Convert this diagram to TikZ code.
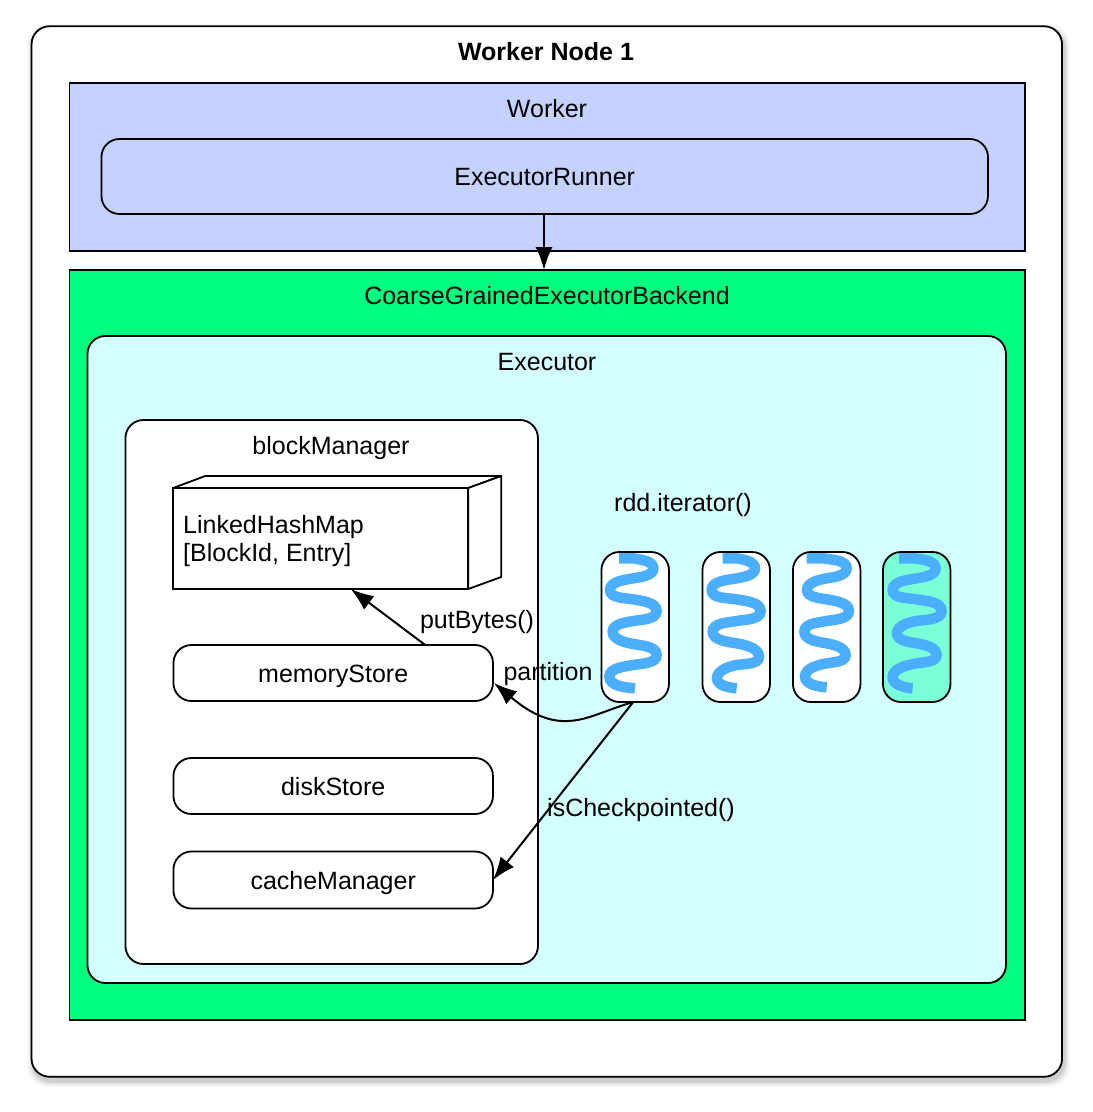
\documentclass[tikz,border=0pt]{standalone}
\usepackage{fontspec}
\setmainfont{Liberation Sans}
\usetikzlibrary{arrows.meta,calc}
\definecolor{workerblue}{HTML}{C5D2FF}
\definecolor{backendgreen}{HTML}{00FF7F}
\definecolor{execcyan}{HTML}{D4FFFF}
\definecolor{threadblue}{HTML}{4BAEFF}
\definecolor{threadgreen}{HTML}{7AFFD6}
\tikzset{
  boxbase/.style={draw=black,line width=1.8pt,inner sep=0pt,outer sep=0pt,align=center,font=\fontsize{25}{28}\selectfont,text height=18pt,text depth=0pt},
  rbox/.style={boxbase,rounded corners=18pt},
  sbox/.style={boxbase},
  title/.style={anchor=base,inner sep=0pt,font=\fontsize{25}{28}\selectfont},
  conn/.style={draw=black,line width=2pt,-{Latex[length=23pt,width=17pt]}},
  squiggle/.style={draw=threadblue,line width=10.5pt,line cap=butt},
  ma/.style={out=-10,in=90,looseness=.85},
  mb/.style={out=-90,in=10,looseness=.85},
  mc/.style={out=190,in=90,looseness=.85},
  md/.style={out=-90,in=170,looseness=.85},
  me/.style={out=-90,in=175,looseness=.85},
}
\begin{document}
\begin{tikzpicture}[x=1pt,y=-1pt]
\useasboundingbox (0,0) rectangle (1093,1112);
\fill[white] (0,0) rectangle (1093,1112);
% soft shadow of the outer box
\foreach \g/\o in {6/.025,4.5/.04,3/.06,1.5/.08}{
  \fill[black,opacity=\o,rounded corners=20pt] (33-\g,30-\g) rectangle (1064+\g,1081+\g);
}
\node[rbox,fill=white,minimum width=1030.5pt,minimum height=1050.5pt] (outer) at (546.8,551.5) {};
\node[sbox,fill=workerblue,minimum width=955.5pt,minimum height=168pt] (worker) at (547.2,167) {};
\node[rbox,fill=workerblue,minimum width=886.5pt,minimum height=75pt] (runner) at (544.7,176.5) {ExecutorRunner};
\node[sbox,fill=backendgreen,minimum width=955.5pt,minimum height=750pt] (backend) at (547.2,645) {};
\node[rbox,fill=execcyan,minimum width=918.5pt,minimum height=647pt] (executor) at (546.7,659.5) {};
\node[rbox,fill=white,minimum width=412.5pt,minimum height=544pt] (bm) at (331.7,692) {};
% 3D box
\node[sbox,fill=white,minimum width=295pt,minimum height=101pt] (map) at (320.7,538.5) {};
\draw[line width=1.8pt,fill=white,line join=round] (map.north west) -- ($(map.north west)+(32,-12)$) -- ($(map.north east)+(33,-12)$) -- (map.north east) -- cycle;
\draw[line width=1.8pt,fill=white,line join=round] (map.north east) -- ($(map.north east)+(33,-12)$) -- ($(map.south east)+(33,-12)$) -- (map.south east) -- cycle;
\node[anchor=base west,inner sep=0pt,align=left,font=\fontsize{25}{28}\selectfont] (maptext) at (183,561) {LinkedHashMap\\{}[BlockId, Entry]};
\node[rbox,fill=white,minimum width=319.5pt,minimum height=56pt] (memory) at (333.2,673) {memoryStore};
\node[rbox,fill=white,minimum width=319.5pt,minimum height=56pt] (disk) at (333.2,786) {diskStore};
\node[rbox,fill=white,minimum width=319.5pt,minimum height=57pt] (cache) at (333.2,880) {cacheManager};
% threads
\node[rbox,fill=white,minimum width=67.5pt,minimum height=150pt] (t1) at (635.2,627) {};
\node[rbox,fill=white,minimum width=67.5pt,minimum height=150pt] (t2) at (736.2,627) {};
\node[rbox,fill=white,minimum width=67.5pt,minimum height=150pt] (t3) at (826.7,627) {};
\node[rbox,fill=threadgreen,minimum width=67.5pt,minimum height=150pt] (t4) at (916.7,627) {};
\begin{scope}[shift={(590,540)},x=1pt/3,y=-1pt/3]
\draw[squiggle] (87,55) -- (130,55) to[ma] (190,85) to[mb] (130,115) to[mc] (60,150) to[md] (130,178) to[ma] (200,213) to[mb] (130,243) to[mc] (68,275) to[md] (130,312) to[ma] (200,345) to[mb] (130,375) to[mc] (58,410) to[me] (135,445);
\draw[squiggle] (398,55) -- (440,55) to[ma] (495,85) to[mb] (440,115) to[mc] (365,150) to[md] (440,178) to[ma] (512,213) to[mb] (440,243) to[mc] (368,275) to[md] (440,310) to[ma] (507,350) to[mb] (440,375) to[mc] (381,415) to[me] (440,445);
\draw[squiggle] (650,55) -- (700,55) to[ma] (770,85) to[mb] (710,115) to[mc] (651,150) to[md] (710,178) to[ma] (777,213) to[mb] (710,243) to[mc] (643,275) to[md] (710,310) to[ma] (767,345) to[mb] (710,370) to[mc] (645,410) to[me] (710,442);
\draw[squiggle] (927,55) -- (975,55) to[ma] (1037,85) to[mb] (980,115) to[mc] (908,150) to[md] (980,178) to[ma] (1055,213) to[mb] (980,243) to[mc] (921,280) to[md] (980,310) to[ma] (1040,345) to[mb] (980,370) to[mc] (908,412) to[me] (968,445);
\end{scope}
% titles
\node[title] (tn) at (546,60) {\bfseries Worker Node 1};
\node[title] (tw) at (547,117) {Worker};
\node[title] (tb) at (547,304) {CoarseGrainedExecutorBackend};
\node[title] (te) at (547,370) {Executor};
\node[title] (tm) at (331,454) {blockManager};
\node[title] (ti) at (683,511) {rdd.iterator()};
% connectors
\coordinate (rs) at ($(runner.south)+(-0.7,0)$);
\draw[conn] (rs) -- (rs |- backend.north);
\draw[conn] ($(memory.north)+(92,0)$) -- ($(map.south)+(30,0)$);
\draw[conn] ($(t1.south)+(-2,0)$) .. controls (600,712) and (585,722) .. (562,721) .. controls (538,720) and (518,703) .. ($(memory.east)+(1,10)$);
\draw[conn] ($(t1.south)+(-2,0)$) -- (cache.east);
\node[title] (lp) at (477,628) {putBytes()};
\node[title] (lq) at (548,680) {partition};
\node[title] (lc) at (641,816) {isCheckpointed()};
\end{tikzpicture}
\end{document}
